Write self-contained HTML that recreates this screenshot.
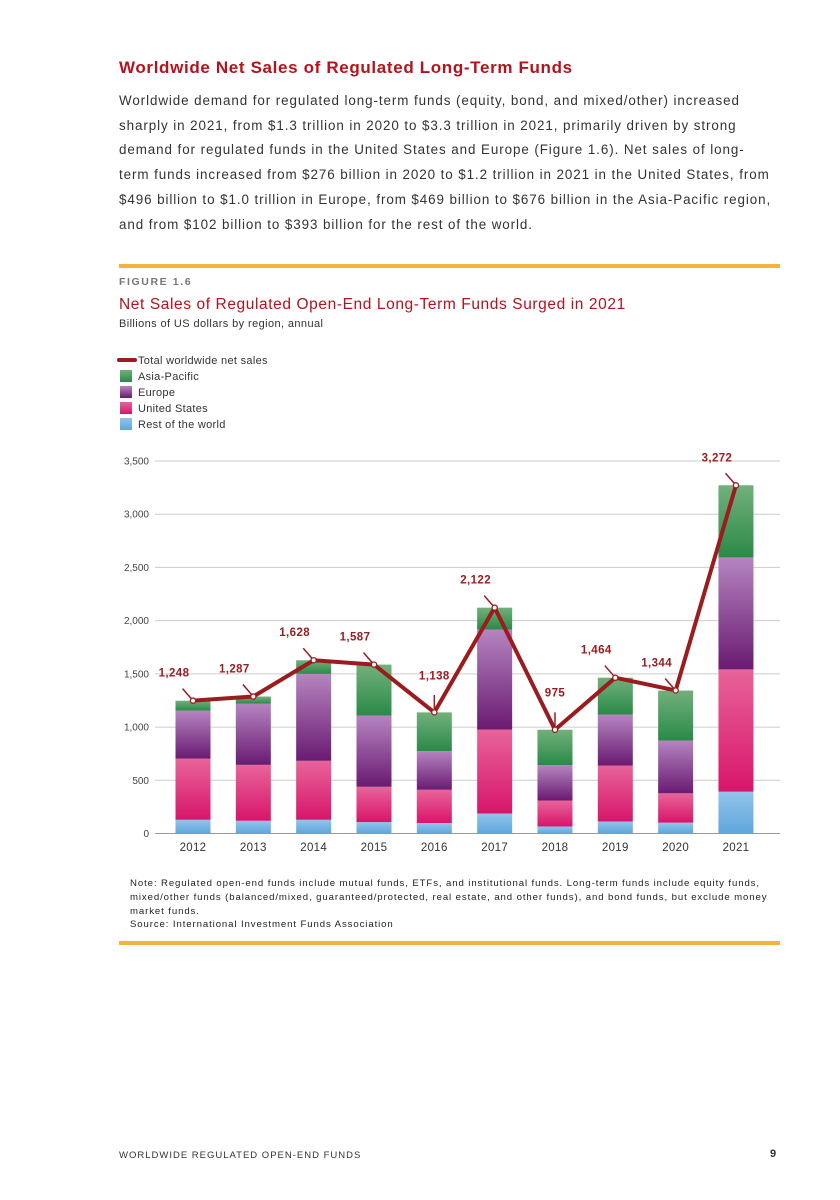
<!DOCTYPE html>
<html><head><meta charset="utf-8">
<style>
body{margin:0;background:#fff;font-family:"Liberation Sans",sans-serif;}
#page{position:relative;width:840px;height:1200px;overflow:hidden;background:#fff;}
.abs{position:absolute;}
#title{left:119px;top:58px;font-size:17px;color:#b5121b;font-weight:bold;letter-spacing:0.65px;white-space:nowrap;}
#body{left:119px;top:89px;font-size:13.4px;line-height:24.7px;color:#333;letter-spacing:0.92px;white-space:nowrap;}
.rule{left:119px;width:661px;height:4px;background:#f6b13d;}
#fig{left:119px;top:276px;font-size:10.5px;letter-spacing:1.6px;color:#777;font-weight:bold;}
#ctitle{left:119px;top:296px;font-size:15.5px;color:#b5121b;letter-spacing:0.6px;white-space:nowrap;}
#sub{left:119px;top:318px;font-size:11px;color:#333;letter-spacing:0.4px;}
#notes{left:130px;top:877px;font-size:9.6px;line-height:13.8px;color:#222;letter-spacing:0.9px;white-space:nowrap;}
#footer{left:119px;top:1150px;font-size:9.5px;letter-spacing:1px;color:#333;}
#pnum{left:770px;top:1148px;font-size:11px;font-weight:bold;color:#333;}
</style></head><body>
<div id="page">
<div id="title" class="abs">Worldwide Net Sales of Regulated Long-Term Funds</div>
<div id="body" class="abs">Worldwide demand for regulated long-term funds (equity, bond, and mixed/other) increased<br>sharply in 2021, from $1.3 trillion in 2020 to $3.3 trillion in 2021, primarily driven by strong<br>demand for regulated funds in the United States and Europe (Figure 1.6). Net sales of long-<br>term funds increased from $276 billion in 2020 to $1.2 trillion in 2021 in the United States, from<br>$496 billion to $1.0 trillion in Europe, from $469 billion to $676 billion in the Asia-Pacific region,<br>and from $102 billion to $393 billion for the rest of the world.</div>
<div class="abs rule" style="top:264px"></div>
<div id="fig" class="abs">FIGURE 1.6</div>
<div id="ctitle" class="abs">Net Sales of Regulated Open-End Long-Term Funds Surged in 2021</div>
<div id="sub" class="abs">Billions of US dollars by region, annual</div>
<svg id="chart" class="abs" style="left:0;top:0" width="840" height="870">
<defs>
<linearGradient id="gAP" x1="0" y1="0" x2="0" y2="1"><stop offset="0" stop-color="#72b07c"/><stop offset="1" stop-color="#2a8a48"/></linearGradient>
<linearGradient id="gEU" x1="0" y1="0" x2="0" y2="1"><stop offset="0" stop-color="#b585c0"/><stop offset="1" stop-color="#6a1a72"/></linearGradient>
<linearGradient id="gUS" x1="0" y1="0" x2="0" y2="1"><stop offset="0" stop-color="#e8649a"/><stop offset="1" stop-color="#d8156a"/></linearGradient>
<linearGradient id="gRW" x1="0" y1="0" x2="0" y2="1"><stop offset="0" stop-color="#92c4ea"/><stop offset="1" stop-color="#5ea6dc"/></linearGradient>
</defs>
<g id="legend"></g>
<g id="grid"></g><g id="bars"></g><g id="line"></g><g id="labels"></g>
</svg>
<div id="notes" class="abs">Note: Regulated open-end funds include mutual funds, ETFs, and institutional funds. Long-term funds include equity funds,<br>mixed/other funds (balanced/mixed, guaranteed/protected, real estate, and other funds), and bond funds, but exclude money<br>market funds.<br>Source: International Investment Funds Association</div>
<div class="abs rule" style="top:941px"></div>
<div id="footer" class="abs">WORLDWIDE REGULATED OPEN-END FUNDS</div>
<div id="pnum" class="abs">9</div>
</div>
<script>
const years=["2012","2013","2014","2015","2016","2017","2018","2019","2020","2021"];
const restOfWorld=[129,120,129,107,98,188,66,113,102,393];
const unitedStates=[575,525,554,332,313,789,244,526,276,1149];
const europe=[451,574,817,670,363,940,332,479,496,1052];
const asiaPacific=[93,68,128,478,364,205,333,346,469,678];
const totals=[1248,1287,1628,1587,1138,2122,975,1464,1344,3272];
const totalLabels=["1,248","1,287","1,628","1,587","1,138","2,122","975","1,464","1,344","3,272"];
const yTicks=[0,500,1000,1500,2000,2500,3000,3500];
const yTickLabels=["0","500","1,000","1,500","2,000","2,500","3,000","3,500"];
const verticalLeader=[false,false,false,false,true,false,true,false,false,false];

const NS="http://www.w3.org/2000/svg";
const X0=163,STEP=60.33,BW=35,Y0=833.5,PX=372.5/3500;
const xc=i=>X0+30+i*STEP;
const ys=v=>Y0-v*PX;
function mk(tag,attrs,parent,text){const e=document.createElementNS(NS,tag);for(const k in attrs)e.setAttribute(k,attrs[k]);if(text!==undefined)e.textContent=text;parent.appendChild(e);return e;}

const lg=document.getElementById('legend');
let le=mk('line',{x1:119,y1:360,x2:135,y2:360,stroke:'#9b1b1f','stroke-width':4,'stroke-linecap':'round'},lg);


const legItems=[["Total worldwide net sales",null],["Asia-Pacific","url(#gAP)"],["Europe","url(#gEU)"],["United States","url(#gUS)"],["Rest of the world","url(#gRW)"]];
legItems.forEach((it,k)=>{
  const y=360+k*16;
  if(it[1]){const r=mk('rect',{x:120,y:y-6,width:12,height:12,fill:it[1]},lg);
    
    }
  const t=mk('text',{x:138,y:y+4,'font-size':11,fill:'#333','letter-spacing':0.3},lg,it[0]);
  
  
});

const g=document.getElementById('grid');
yTicks.forEach((v,k)=>{
  const y=ys(v);
  const l=mk('line',{x1:155,x2:780,y1:y,y2:y,stroke:k===0?'#999':'#ccc','stroke-width':1},g);
  
  
  const t=mk('text',{x:149,y:y+3.5,'text-anchor':'end','font-size':10,fill:'#444'},g,yTickLabels[k]);
  
  
});
years.forEach((yr,i)=>{
  const t=mk('text',{x:xc(i),y:851,'text-anchor':'middle','font-size':11.5,fill:'#333','letter-spacing':0.3},g,yr);
  
  
});

const b=document.getElementById('bars');
const series=[[restOfWorld,'url(#gRW)','bar-rest-of-world'],[unitedStates,'url(#gUS)','bar-united-states'],[europe,'url(#gEU)','bar-europe'],[asiaPacific,'url(#gAP)','bar-asia-pacific']];
years.forEach((yr,i)=>{
  let base=0;
  series.forEach(s=>{
    const v=s[0][i];
    const r=mk('rect',{x:xc(i)-BW/2,y:ys(base+v),width:BW,height:v*PX,fill:s[1]},b);
    
    
    base+=v;
  });
});

const ln=document.getElementById('line');
const pts=totals.map((v,i)=>xc(i)+','+ys(v)).join(' ');
const pl=mk('polyline',{points:pts,fill:'none',stroke:'#9b1b1f','stroke-width':4,'stroke-linejoin':'round'},ln);


const lab=document.getElementById('labels');
totals.forEach((v,i)=>{
  const x=xc(i),y=ys(v);
  const straight=verticalLeader[i];
  const dx=straight?0:-19, dy=straight?-29:-20;
  mk('line',{x1:x+dx*0.55,y1:y+dy*0.6,x2:x,y2:y,stroke:'#9b1b1f','stroke-width':1.5},lab);
  const c=mk('circle',{cx:x,cy:y,r:2.6,fill:'#fff',stroke:'#9b1b1f','stroke-width':1.3},lab);
  
  
  const t=mk('text',{x:x+dx,y:y+dy-4,'text-anchor':'middle','font-size':11.5,'font-weight':'bold',fill:'#9b1b1f','letter-spacing':0.4},lab,totalLabels[i]);
  
  
});
</script>
</body></html>
